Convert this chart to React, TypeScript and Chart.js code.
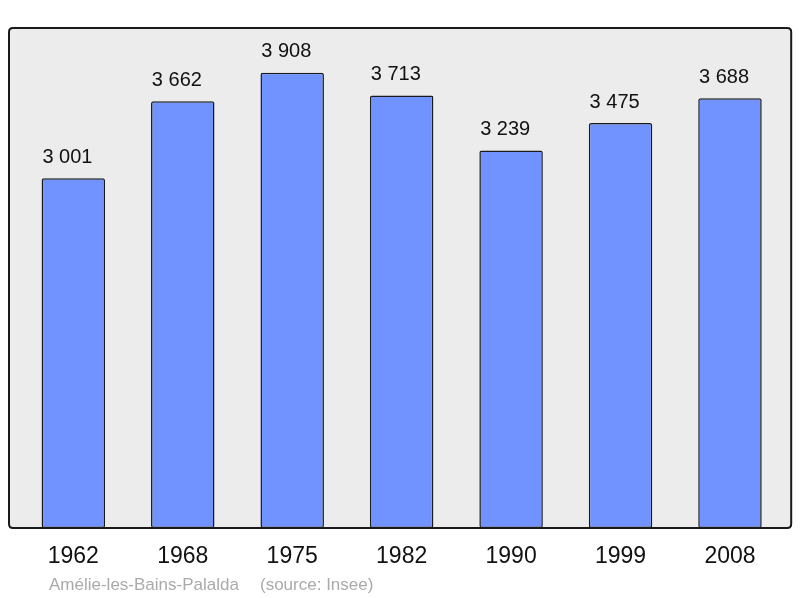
import React, { useEffect, useRef } from "react";
import { Chart, registerables } from "chart.js";

Chart.register(...registerables);

const years = ["1962", "1968", "1975", "1982", "1990", "1999", "2008"];
const population = [3001, 3662, 3908, 3713, 3239, 3475, 3688];
const placeName = "Amélie-les-Bains-Palalda";
const sourceText = "(source: Insee)";
const yMax = 4300;

const FONT = '"Liberation Sans", Arial, sans-serif';

function fmt(v: number): string {
  return String(v).replace(/\B(?=(\d{3})+(?!\d))/g, " ");
}

function roundRect(ctx: CanvasRenderingContext2D, x: number, y: number, w: number, h: number, r: number) {
  ctx.beginPath();
  ctx.moveTo(x + r, y);
  ctx.lineTo(x + w - r, y);
  ctx.quadraticCurveTo(x + w, y, x + w, y + r);
  ctx.lineTo(x + w, y + h - r);
  ctx.quadraticCurveTo(x + w, y + h, x + w - r, y + h);
  ctx.lineTo(x + r, y + h);
  ctx.quadraticCurveTo(x, y + h, x, y + h - r);
  ctx.lineTo(x, y + r);
  ctx.quadraticCurveTo(x, y, x + r, y);
  ctx.closePath();
}

const framePlugin = {
  id: "frame",
  beforeDatasetsDraw(chart: any) {
    const { ctx, chartArea } = chart;
    const x = chartArea.left - 9.6;
    const y = chartArea.top + 1;
    const w = chartArea.right + 6.5 - x;
    const h = chartArea.bottom - y;
    ctx.save();
    roundRect(ctx, x, y, w, h, 4);
    ctx.fillStyle = "#ececec";
    ctx.fill();
    ctx.restore();
  },
  afterDatasetsDraw(chart: any) {
    const { ctx, chartArea } = chart;
    const x = chartArea.left - 9.6;
    const y = chartArea.top + 1;
    const w = chartArea.right + 6.5 - x;
    const h = chartArea.bottom - y;
    ctx.save();
    roundRect(ctx, x, y, w, h, 4);
    ctx.lineWidth = 2;
    ctx.strokeStyle = "#1a1a1a";
    ctx.stroke();

    // value labels
    const meta = chart.getDatasetMeta(0);
    ctx.fillStyle = "#111";
    ctx.font = `20px ${FONT}`;
    ctx.textAlign = "left";
    ctx.textBaseline = "alphabetic";
    meta.data.forEach((bar: any, i: number) => {
      ctx.fillText(fmt(population[i]), bar.x - bar.width / 2 + 0.8, bar.y - 15.5);
    });

    // footer
    ctx.fillStyle = "#aaaaaa";
    ctx.font = `17px ${FONT}`;
    ctx.textAlign = "left";
    ctx.fillText(placeName, 49, 590);
    ctx.fillText(sourceText, 260, 590);
    ctx.restore();
  },
};

export default function App() {
  const ref = useRef<HTMLCanvasElement | null>(null);
  useEffect(() => {
    if (!ref.current) return;
    const chart = new Chart(ref.current, {
      type: "bar",
      data: {
        labels: years,
        datasets: [
          {
            data: population,
            backgroundColor: "#7093ff",
            borderColor: "#1a1a1a",
            borderWidth: 1.5,
            borderRadius: 2,
            borderSkipped: false,
            barPercentage: 0.58,
            categoryPercentage: 1,
          },
        ],
      },
      options: {
        responsive: false,
        animation: false,
        devicePixelRatio: 1,
        layout: { padding: { left: 18.6, right: 15.3, top: 27, bottom: 12.4 } },
        plugins: {
          legend: { display: false },
          tooltip: { enabled: false },
          title: { display: false },
        },
        scales: {
          x: {
            type: "category",
            grid: { display: false, drawTicks: false },
            border: { display: false },
            ticks: {
              color: "#111",
              font: { family: FONT, size: 23 },
              padding: 15,
              maxRotation: 0,
              autoSkip: false,
            },
          },
          y: {
            display: false,
            min: 0,
            max: yMax,
          },
        },
      },
      plugins: [framePlugin],
    });
    return () => chart.destroy();
  }, []);
  return (
    <div style={{ position: "absolute", left: 0, top: 0, width: 800, height: 598, background: "#fff" }}>
      <canvas ref={ref} width={800} height={598} style={{ display: "block" }} />
    </div>
  );
}
